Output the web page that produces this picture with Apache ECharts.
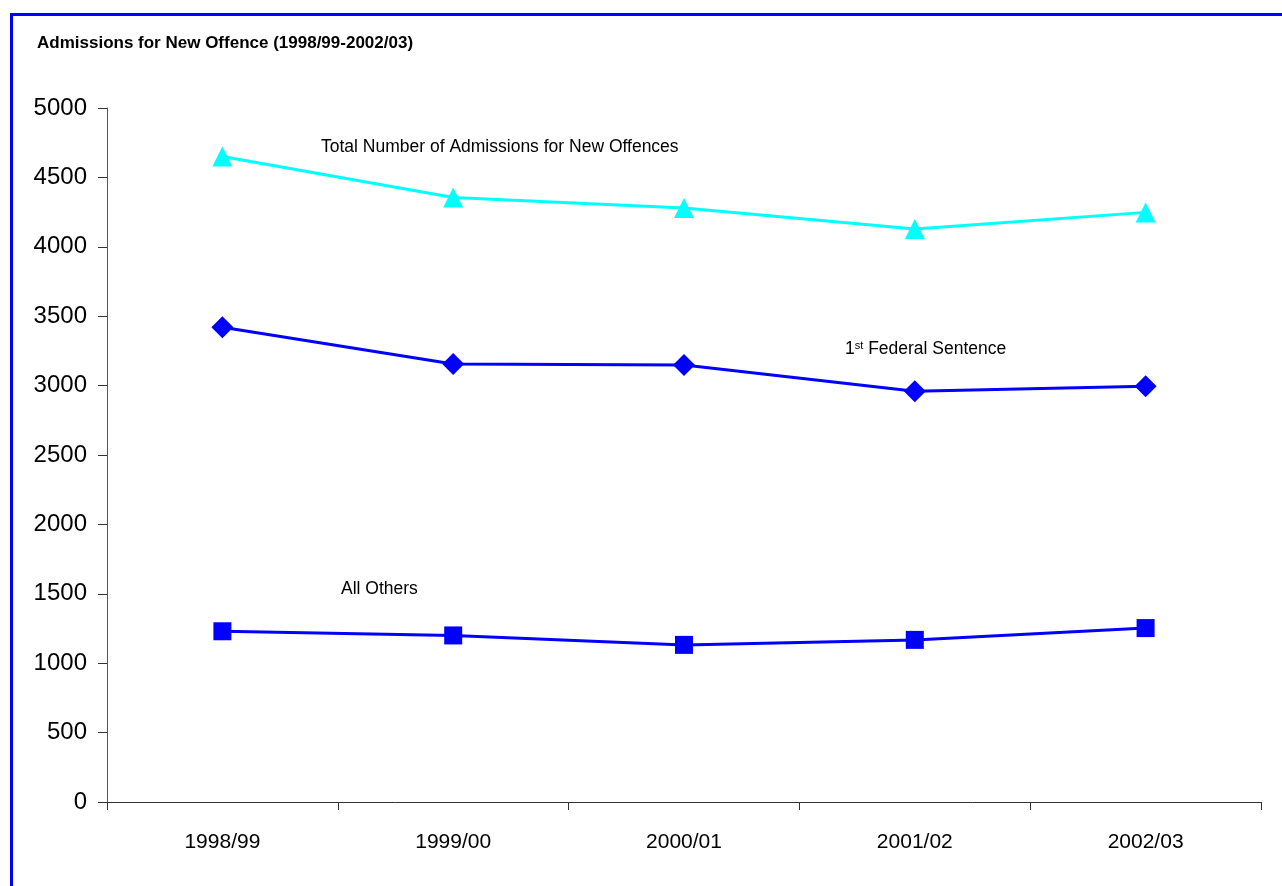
<!DOCTYPE html>
<html>
<head>
<meta charset="utf-8">
<script src="https://cdn.jsdelivr.net/npm/echarts@6/dist/echarts.min.js"></script>
<style>
  html, body { margin: 0; padding: 0; background: #fff; }
  #chart { width: 1282px; height: 886px; }
</style>
</head>
<body>
<div id="chart"></div>
<script>
// Fiscal years on the category axis
const years = ['1998/99', '1999/00', '2000/01', '2001/02', '2002/03'];
// Admissions for new offences
const totalAdmissions = [4650, 4355, 4280, 4128, 4248];
const firstFederal = [3420, 3155, 3148, 2960, 2995];
const allOthers = [1230, 1200, 1132, 1168, 1253];
// Value axis ticks
const yTicks = [0, 500, 1000, 1500, 2000, 2500, 3000, 3500, 4000, 4500, 5000];

const FONT = '"Liberation Sans Narrow", "Arial Narrow", "Liberation Sans", Arial, sans-serif';
const chart = echarts.init(document.getElementById('chart'), null, { renderer: 'canvas' });

const lineSeries = (name, data, color, symbol, size) => ({
  name, type: 'line', data,
  symbol, symbolSize: size, showSymbol: true,
  lineStyle: { color, width: 3 },
  itemStyle: { color },
  z: 3
});

chart.setOption({
  animation: false,
  backgroundColor: '#ffffff',
  grid: { left: 107, top: 108, right: 21, bottom: 84 },
  xAxis: {
    type: 'category', data: years, boundaryGap: true,
    axisLine: { lineStyle: { color: '#333', width: 1 } },
    axisTick: { show: true, length: 8, lineStyle: { color: '#333' } },
    axisLabel: { color: '#000', fontFamily: FONT, fontSize: 21, margin: 30 },
    splitLine: { show: false }
  },
  yAxis: {
    type: 'value', min: yTicks[0], max: yTicks[yTicks.length - 1], interval: 500,
    axisLine: { show: true, lineStyle: { color: '#555', width: 1 } },
    axisTick: { show: true, inside: false, length: 9, lineStyle: { color: '#333' } },
    axisLabel: { color: '#000', fontFamily: FONT, fontSize: 24, margin: 20,
      formatter: (v) => String(v) },
    splitLine: { show: false }
  },
  series: [
    lineSeries('Total Number of Admissions for New Offences', totalAdmissions, '#00ffff', 'triangle', 20),
    lineSeries('1st Federal Sentence', firstFederal, '#0000ff', 'diamond', 22),
    lineSeries('All Others', allOthers, '#0000ff', 'rect', 18)
  ],
  graphic: [
    { type: 'rect', left: 9, top: 12, shape: { width: 1300, height: 900 },
      style: { fill: 'none', stroke: '#0000ff', lineWidth: 3 }, z: 10 },
    { type: 'text', left: 37, top: 35,
      style: { text: 'Admissions for New Offence (1998/99-2002/03)', fill: '#000',
        font: 'bold 17px ' + FONT } },
    { type: 'text', left: 321, top: 138,
      style: { text: 'Total Number of Admissions for New Offences', fill: '#000',
        font: '17.5px ' + FONT } },
    { type: 'text', left: 845, top: 340,
      style: { text: '{n|1}{s|st}{n| Federal Sentence}', fill: '#000',
        rich: {
          n: { fontFamily: FONT, fontSize: 17.5, fill: '#000', verticalAlign: 'bottom' },
          s: { fontFamily: FONT, fontSize: 11, fill: '#000', verticalAlign: 'top' }
        } } },
    { type: 'text', left: 341, top: 580,
      style: { text: 'All Others', fill: '#000', font: '17.5px ' + FONT } }
  ]
});
</script>
</body>
</html>
